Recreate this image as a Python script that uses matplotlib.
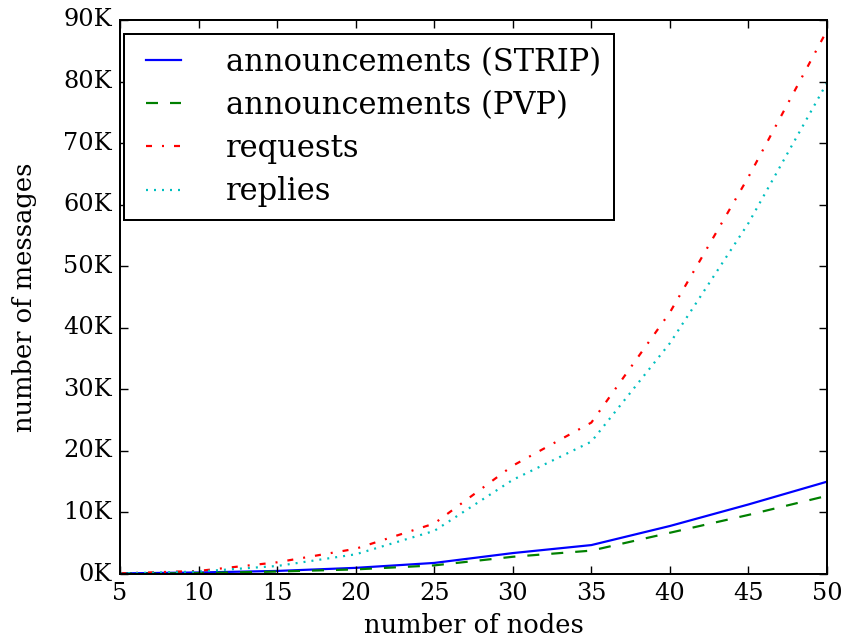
import numpy as np
import matplotlib
matplotlib.use("Agg")
import matplotlib.pyplot as plt
from matplotlib.ticker import FuncFormatter

plt.style.use('classic')
plt.rcParams['font.family'] = 'serif'
plt.rcParams['font.serif'] = ['DejaVu Serif']
plt.rcParams['lines.scale_dashes'] = False

nodes = [5, 10, 15, 20, 25, 30, 35, 40, 45, 50]
ann_strip = [100, 250, 500, 1000, 1800, 3400, 4700, 7800, 11300, 15000]
ann_pvp = [50, 150, 400, 750, 1400, 2800, 3800, 6700, 9600, 12700]
requests = [100, 500, 1900, 4100, 8200, 17600, 24600, 42500, 64500, 88300]
replies = [100, 400, 1300, 3200, 7000, 15300, 21500, 37500, 57000, 79800]

# source was drawn at a larger dpi, scale everything up
s = 1.44
fs = 12 * s
lw = 1.1 * s

fig = plt.figure(figsize=(8.47, 6.38), dpi=100, facecolor='white')
ax = fig.add_axes([0.1417, 0.1003, 0.8347, 0.8684])

ax.plot(nodes, ann_strip, color='b', ls='-', lw=lw, label='announcements (STRIP)')
ax.plot(nodes, ann_pvp, color='g', lw=lw, dashes=(6 * s, 6 * s), label='announcements (PVP)')
ax.plot(nodes, requests, color='r', lw=lw, dashes=(3 * s, 5 * s, 1 * s, 5 * s), label='requests')
ax.plot(nodes, replies, color='c', lw=lw, dashes=(1 * s, 3 * s), label='replies')

ax.set_xlim(5, 50)
ax.set_ylim(0, 90000)
ax.set_xticks(np.arange(5, 51, 5))
ax.set_yticks(np.arange(0, 90001, 10000))
ax.yaxis.set_major_formatter(FuncFormatter(lambda v, p: '%dK' % int(v / 1000)))
ax.tick_params(labelsize=fs, length=4 * s, width=0.7 * s, pad=4 * s)
for sp in ax.spines.values():
    sp.set_linewidth(1.0 * s)

ax.set_xlabel('number of nodes', fontsize=18.5, labelpad=6)
ax.set_ylabel('number of messages', fontsize=18.5, labelpad=19)

leg = ax.legend(loc='upper left', bbox_to_anchor=(0.006, 0.975), borderaxespad=0,
                prop={'size': 22}, handlelength=1.75, handletextpad=1.15,
                borderpad=0.42, labelspacing=0.4)
leg.get_frame().set_linewidth(1.0 * s)

fig.savefig('out.png', dpi=100, facecolor='white')
